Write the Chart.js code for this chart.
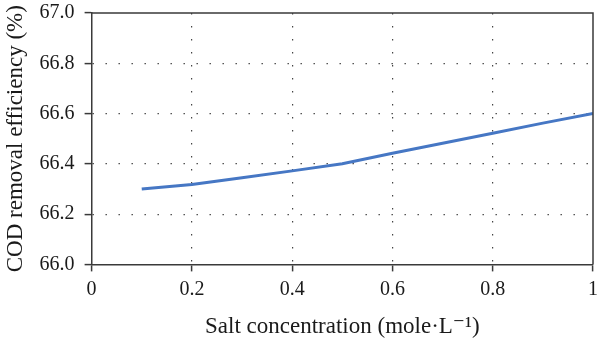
<!DOCTYPE html>
<html>
<head>
<meta charset="utf-8">
<script src="https://cdn.jsdelivr.net/npm/chart.js@4/dist/chart.umd.min.js"></script>
<style>
html,body{margin:0;padding:0;background:#fff;}
#wrap{width:600px;height:343px;position:relative;}
</style>
</head>
<body>
<div id="wrap"><canvas id="c" width="600" height="343"></canvas></div>
<script>
const saltConc = [0.1, 0.2, 0.3, 0.4, 0.5, 0.6, 0.7, 0.8, 0.9, 1.0];
const codRemoval = [66.30, 66.318, 66.345, 66.372, 66.40, 66.442, 66.482, 66.522, 66.562, 66.60];
const xTitle = 'Salt concentration (mole\u00B7L\u207B\u00B9)';
const yTitle = 'COD removal efficiency (%)';

const FONT = "'Liberation Serif', 'DejaVu Serif', serif";
const AXIS = '#3a3a3a';
const TEXT = '#1a1a1a';

const framePlugin = {
  id: 'frame',
  afterDraw(chart) {
    const {ctx, chartArea: a} = chart;
    ctx.save();
    ctx.strokeStyle = AXIS;
    ctx.lineWidth = 1.5;
    ctx.beginPath();
    ctx.moveTo(a.left, a.top);
    ctx.lineTo(a.right, a.top);
    ctx.lineTo(a.right, a.bottom);
    ctx.stroke();
    ctx.restore();
  }
};

const edge = (v, lo, hi) => v <= lo + 1e-6 || v >= hi - 1e-6;

new Chart(document.getElementById('c'), {
  type: 'line',
  data: {
    datasets: [{
      data: saltConc.map((x, i) => ({x, y: codRemoval[i]})),
      borderColor: '#4677c4',
      borderWidth: 3,
      pointRadius: 0,
      tension: 0,
      fill: false
    }]
  },
  options: {
    responsive: false,
    animation: false,
    devicePixelRatio: 1,
    layout: {padding: {left: 2, right: 7, top: 13, bottom: 2}},
    plugins: {legend: {display: false}, tooltip: {enabled: false}},
    scales: {
      x: {
        type: 'linear', min: 0, max: 1,
        afterFit: s => { s.paddingRight = 0; s.paddingLeft = 0; },
        ticks: {
          stepSize: 0.2,
          color: TEXT,
          font: {family: FONT, size: 20},
          padding: 6,
          maxRotation: 0,
          callback: v => String(Number(v.toFixed(1)))
        },
        grid: {
          color: ctx => (ctx.tick && edge(ctx.tick.value, 0, 1)) ? 'rgba(0,0,0,0)' : '#444',
          lineWidth: 1.2,
          tickLength: 7,
          tickColor: AXIS,
          tickWidth: 1.5,
          tickBorderDash: [],
          drawTicks: true
        },
        border: {display: true, color: AXIS, width: 1.5, dash: [1.4, 11.6]},
        title: {
          display: true, text: xTitle, color: TEXT,
          font: {family: FONT, size: 23}, padding: {top: 6, bottom: 0}
        }
      },
      y: {
        min: 66.0, max: 67.0,
        afterFit: s => { s.paddingTop = 0; s.paddingBottom = 0; },
        ticks: {
          stepSize: 0.2,
          color: TEXT,
          font: {family: FONT, size: 20},
          padding: 10,
          callback: v => v.toFixed(1)
        },
        grid: {
          color: ctx => (ctx.tick && edge(ctx.tick.value, 66, 67)) ? 'rgba(0,0,0,0)' : '#444',
          lineWidth: 1.2,
          tickLength: 7,
          tickColor: AXIS,
          tickWidth: 1.5,
          tickBorderDash: [],
          drawTicks: true
        },
        border: {display: true, color: AXIS, width: 1.5, dash: [1.4, 11.6]},
        title: {
          display: true, text: yTitle, color: TEXT,
          font: {family: FONT, size: 23}, padding: {top: 0, bottom: 0}
        }
      }
    }
  },
  plugins: [framePlugin]
});
</script>
</body>
</html>
